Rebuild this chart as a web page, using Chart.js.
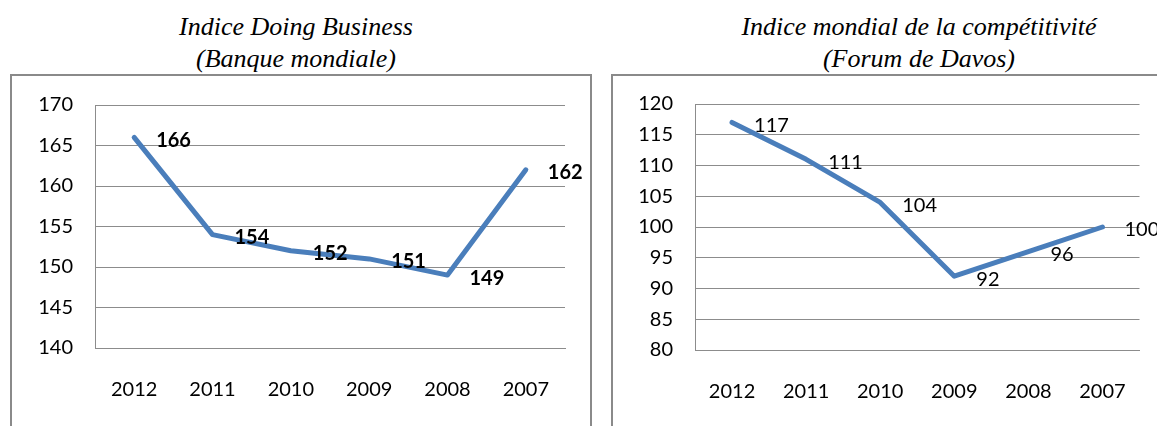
<!DOCTYPE html>
<html>
<head>
<meta charset="utf-8">
<script src="https://cdn.jsdelivr.net/npm/chart.js@4.4.1/dist/chart.umd.min.js"></script>
<style>
  body { margin: 0; background: #fff; width: 1157px; height: 426px; overflow: hidden; position: relative; }
  .titre { position: absolute; top: 11px; font-family: "Liberation Serif", serif; font-style: italic; font-size: 26px; line-height: 32px; text-align: center; color: #000; }
  .cadre { position: absolute; top: 74px; height: 400px; border: 2px solid #8a8a8a; }
  canvas { position: absolute; top: 0; }
</style>
</head>
<body>
<div class="titre" style="left:96px;width:400px;">Indice Doing Business<br>(Banque mondiale)</div>
<div class="titre" style="left:719px;width:400px;">Indice mondial de la compétitivité<br>(Forum de Davos)</div>
<div class="cadre" style="left:10px;width:578px;"></div>
<div class="cadre" style="left:611px;width:600px;"></div>
<canvas id="graphDB" width="600" height="426" style="left:0px"></canvas>
<canvas id="graphGCI" width="557" height="426" style="left:600px"></canvas>
<script>
const annees = ["2012", "2011", "2010", "2009", "2008", "2007"];
const doingBusiness = [166, 154, 152, 151, 149, 162];
const competitivite = [117, 111, 104, 92, 96, 100];

const bleu = '#4a7ebb';
const gris = '#8c8c8c';

// etiquettes de valeur a droite de chaque point
const etiquettes = {
  id: 'etiquettes',
  afterDatasetsDraw(chart, args, opts) {
    const ctx = chart.ctx;
    const meta = chart.getDatasetMeta(0);
    const valeurs = chart.data.datasets[0].data;
    ctx.save();
    ctx.font = opts.font;
    ctx.fillStyle = '#000';
    ctx.textAlign = 'left';
    ctx.textBaseline = 'middle';
    meta.data.forEach((pt, i) => {
      ctx.fillText(String(valeurs[i]), pt.x + 22, pt.y + 3);
    });
    ctx.restore();
  }
};

function creerGraphique(id, valeurs, min, max, pad, police) {
  const ctx = document.getElementById(id).getContext('2d');
  return new Chart(ctx, {
    type: 'line',
    data: {
      labels: annees,
      datasets: [{
        data: valeurs,
        borderColor: bleu,
        borderWidth: 5,
        pointRadius: 0,
        tension: 0,
        borderCapStyle: 'round',
        borderJoinStyle: 'round'
      }]
    },
    options: {
      responsive: false,
      animation: false,
      layout: { padding: pad },
      plugins: {
        legend: { display: false },
        tooltip: { enabled: false },
        etiquettes: { font: police }
      },
      scales: {
        x: {
          offset: true,
          grid: { display: false, drawTicks: false },
          border: { display: true, color: gris, width: 1 },
          ticks: { color: '#000', padding: 30, font: { family: 'Lato', size: 20 } },
          afterFit: (s) => { s.height = 60; }
        },
        y: {
          min: min,
          max: max,
          ticks: { stepSize: 5, color: '#000', padding: 22, font: { family: 'Lato', size: 20 } },
          grid: { color: gris, lineWidth: 1, drawTicks: false },
          border: { display: true, color: gris, width: 1 },
          afterFit: (s) => { s.width = 60; }
        }
      }
    },
    plugins: [etiquettes]
  });
}

creerGraphique('graphDB', doingBusiness, 140, 170,
  { left: 35, right: 35, top: 105, bottom: 18 }, 'bold 20px Lato');
creerGraphique('graphGCI', competitivite, 80, 120,
  { left: 35, right: 16, top: 104, bottom: 16 }, '20px Lato');
</script>
</body>
</html>
